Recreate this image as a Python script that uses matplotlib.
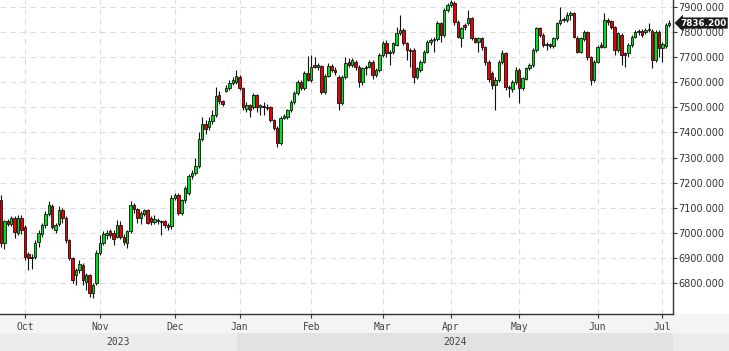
import numpy as np
import pandas as pd
import matplotlib
matplotlib.use("Agg")
import matplotlib.pyplot as plt
import matplotlib.transforms as mtransforms
from matplotlib.patches import Rectangle

# trading days (ASX style calendar)
holidays = ['2023-12-25', '2023-12-26', '2024-01-01', '2024-01-26', '2024-03-29',
            '2024-04-01', '2024-04-25', '2024-06-10']
dates = pd.bdate_range('2023-09-21', '2024-07-03')
dates = dates[~dates.isin(pd.to_datetime(holidays))]

opens = [7130, 6960, 7045, 7035, 7058, 7000, 7058, 7023, 6915, 6900,
         6905, 6962, 6995, 7030, 7075, 7105, 7012, 7035, 7090, 7058,
         6970, 6900, 6830, 6850, 6870, 6805, 6830, 6760, 6800, 6920,
         6960, 6990, 7005, 7000, 6985, 7030, 6985, 6960, 7005, 7110,
         7095, 7060, 7075, 7090, 7058, 7042, 7050, 7048, 7045, 7030,
         7025, 7140, 7150, 7079, 7130, 7160, 7228, 7240, 7268, 7375,
         7435, 7420, 7445, 7470, 7550, 7525, 7565, 7578, 7598, 7600,
         7622, 7578, 7495, 7510, 7502, 7550, 7502, 7507, 7502, 7502,
         7450, 7418, 7358, 7458, 7462, 7490, 7522, 7557, 7600, 7578,
         7637, 7610, 7668, 7660, 7665, 7561, 7625, 7665, 7650, 7621,
         7517, 7621, 7682, 7668, 7682, 7662, 7601, 7655, 7662, 7682,
         7629, 7648, 7708, 7755, 7715, 7720, 7750, 7795, 7808, 7755,
         7729, 7729, 7621, 7648, 7682, 7722, 7762, 7768, 7772, 7836,
         7788, 7888, 7908, 7915, 7842, 7776, 7828, 7835, 7855, 7775,
         7762, 7775, 7740, 7680, 7635, 7590, 7610, 7680, 7717, 7578,
         7572, 7601, 7650, 7577, 7615, 7655, 7668, 7729, 7816, 7788,
         7748, 7752, 7744, 7775, 7836, 7852, 7848, 7870, 7876, 7778,
         7722, 7772, 7800, 7700, 7610, 7682, 7748, 7742, 7848, 7845,
         7820, 7728, 7790, 7715, 7715, 7748, 7781, 7802, 7805, 7800,
         7808, 7805, 7690, 7802, 7735, 7745, 7828]
highs = [7150, 7050, 7055, 7068, 7065, 7072, 7072, 7030, 6925, 6915,
         6970, 7010, 7040, 7085, 7125, 7115, 7040, 7105, 7100, 7065,
         6975, 6905, 6860, 6890, 6880, 6840, 6835, 6800, 6930, 6990,
         7005, 7010, 7015, 7010, 7050, 7045, 6995, 7010, 7125, 7120,
         7100, 7085, 7095, 7095, 7065, 7070, 7058, 7052, 7050, 7040,
         7150, 7160, 7160, 7135, 7185, 7235, 7250, 7300, 7400, 7460,
         7450, 7460, 7490, 7580, 7565, 7530, 7590, 7610, 7620, 7650,
         7630, 7582, 7520, 7515, 7558, 7555, 7515, 7520, 7515, 7505,
         7455, 7425, 7465, 7475, 7495, 7530, 7565, 7610, 7610, 7645,
         7705, 7708, 7700, 7675, 7670, 7632, 7675, 7672, 7660, 7630,
         7630, 7700, 7695, 7695, 7690, 7668, 7660, 7668, 7690, 7688,
         7655, 7715, 7765, 7770, 7728, 7762, 7820, 7868, 7815, 7762,
         7735, 7735, 7662, 7690, 7730, 7770, 7775, 7780, 7845, 7842,
         7895, 7915, 7928, 7925, 7850, 7822, 7835, 7888, 7860, 7780,
         7782, 7780, 7745, 7690, 7645, 7620, 7690, 7730, 7722, 7590,
         7608, 7660, 7656, 7622, 7662, 7675, 7735, 7822, 7822, 7795,
         7760, 7758, 7782, 7842, 7900, 7860, 7882, 7885, 7882, 7785,
         7782, 7808, 7806, 7705, 7690, 7750, 7760, 7876, 7856, 7850,
         7826, 7800, 7798, 7722, 7755, 7790, 7810, 7812, 7812, 7815,
         7835, 7812, 7810, 7808, 7760, 7835, 7850]
lows = [6945, 6935, 7028, 7025, 6980, 6990, 6995, 6890, 6852, 6855,
        6895, 6945, 6985, 7020, 7065, 7015, 7000, 7025, 7040, 6960,
        6890, 6800, 6790, 6840, 6790, 6770, 6745, 6740, 6790, 6910,
        6950, 6975, 6980, 6950, 6980, 6975, 6950, 6940, 7000, 7080,
        7040, 7035, 7065, 7035, 7030, 7035, 7035, 6990, 7020, 7010,
        7015, 7130, 7070, 7070, 7120, 7150, 7215, 7230, 7260, 7365,
        7395, 7410, 7435, 7460, 7515, 7505, 7560, 7570, 7590, 7592,
        7570, 7490, 7480, 7460, 7495, 7480, 7470, 7470, 7490, 7440,
        7410, 7340, 7350, 7452, 7455, 7480, 7515, 7550, 7570, 7570,
        7605, 7600, 7655, 7650, 7555, 7555, 7620, 7640, 7630, 7490,
        7510, 7615, 7660, 7660, 7650, 7580, 7590, 7630, 7655, 7615,
        7620, 7640, 7700, 7700, 7668, 7712, 7745, 7788, 7750, 7690,
        7661, 7597, 7612, 7640, 7675, 7715, 7750, 7720, 7765, 7760,
        7780, 7880, 7900, 7830, 7775, 7741, 7810, 7828, 7770, 7755,
        7720, 7730, 7670, 7600, 7575, 7490, 7600, 7672, 7570, 7541,
        7560, 7595, 7517, 7570, 7608, 7648, 7660, 7722, 7780, 7740,
        7730, 7735, 7738, 7768, 7830, 7840, 7840, 7850, 7775, 7715,
        7715, 7765, 7690, 7590, 7600, 7675, 7735, 7735, 7830, 7812,
        7710, 7720, 7670, 7660, 7700, 7740, 7775, 7790, 7780, 7792,
        7800, 7655, 7682, 7700, 7682, 7738, 7820]
closes = [6960, 7045, 7035, 7060, 7003, 7060, 7011, 6903, 6900, 6905,
          6960, 7000, 7030, 7075, 7110, 7023, 7030, 7090, 7058, 6970,
          6900, 6812, 6852, 6875, 6812, 6830, 6760, 6790, 6920, 6960,
          6995, 7000, 6990, 6975, 7030, 6985, 6965, 7005, 7110, 7095,
          7060, 7078, 7090, 7040, 7042, 7055, 7045, 7043, 7030, 7022,
          7140, 7150, 7079, 7130, 7178, 7228, 7240, 7268, 7375, 7435,
          7415, 7445, 7470, 7545, 7525, 7515, 7578, 7597, 7610, 7625,
          7578, 7502, 7510, 7490, 7550, 7502, 7508, 7500, 7498, 7450,
          7418, 7358, 7458, 7465, 7490, 7522, 7557, 7600, 7578, 7637,
          7610, 7660, 7660, 7668, 7561, 7625, 7665, 7650, 7640, 7517,
          7621, 7677, 7668, 7689, 7662, 7601, 7655, 7662, 7682, 7629,
          7648, 7708, 7755, 7715, 7722, 7755, 7795, 7808, 7755, 7729,
          7725, 7621, 7655, 7682, 7722, 7762, 7768, 7772, 7836, 7788,
          7888, 7908, 7920, 7842, 7780, 7816, 7822, 7855, 7775, 7762,
          7775, 7740, 7680, 7615, 7590, 7610, 7680, 7717, 7581, 7582,
          7601, 7650, 7577, 7615, 7655, 7668, 7729, 7816, 7788, 7748,
          7752, 7744, 7775, 7836, 7850, 7848, 7870, 7878, 7780, 7722,
          7775, 7800, 7700, 7610, 7682, 7741, 7742, 7848, 7840, 7820,
          7728, 7795, 7708, 7708, 7748, 7781, 7802, 7805, 7790, 7808,
          7810, 7690, 7802, 7735, 7752, 7828, 7836.2]

month_labels = ['Oct', 'Nov', 'Dec', 'Jan', 'Feb', 'Mar', 'Apr', 'May', 'Jun', 'Jul']
year_labels = ['2023', '2024']
last_price = closes[-1]

o = np.array(opens, dtype=float)
h = np.array(highs, dtype=float)
l = np.array(lows, dtype=float)
c = np.array(closes, dtype=float)
x = np.arange(len(c))

W, H = 729, 351
fig = plt.figure(figsize=(W / 100, H / 100), dpi=100, facecolor='white')
ax = fig.add_axes([0, 37 / H, 673 / W, 314 / H])
ax.set_facecolor('white')

# bottom strip (months + years)
fig.add_artist(Rectangle((0, 0), 1, 37 / H, transform=fig.transFigure,
                         facecolor='#f4f4f4', edgecolor='none', zorder=0))

# wicks and bodies
ax.vlines(x, l, h, color='#111111', linewidth=0.8, zorder=2)
up = c >= o
body_bottom = np.minimum(o, c)
body_h = np.maximum(np.abs(c - o), 3)
ax.bar(x, body_h, bottom=body_bottom, width=0.72,
       color=np.where(up, '#00e01a', '#ee0000'),
       edgecolor='#111111', linewidth=0.6, zorder=3)

ax.set_xlim(-0.3, 197.1)
ax.set_ylim(6676, 7928)

# month ticks at the first trading day of each month
month_idx = [i for i in range(1, len(dates)) if dates[i].month != dates[i - 1].month]
ax.set_xticks(month_idx)
ax.set_xticklabels(month_labels, fontfamily='DejaVu Sans Mono', fontsize=7, color='#444444')
ax.tick_params(axis='x', direction='out', length=3, pad=3, color='#333333')

yt = np.arange(6800, 7901, 100)
ax.set_yticks(yt)
ax.set_yticklabels([f'{v:.3f}' for v in yt], fontsize=7, color='#333333')
ax.yaxis.tick_right()
ax.tick_params(axis='y', direction='out', length=3, pad=1, color='#333333')

ax.grid(True, color='#dcdcdc', linestyle=(0, (5, 4)), linewidth=0.8, zorder=0)
ax.set_axisbelow(True)
for s in ['left', 'top']:
    ax.spines[s].set_visible(False)
for s in ['right', 'bottom']:
    ax.spines[s].set_color('#333333')
    ax.spines[s].set_linewidth(1)

# year band
xl = ax.get_xlim()
px = (xl[1] - xl[0]) / 673
bax = fig.add_axes([0, 0, 1, 18 / H])
bax.set_xlim(xl[0], xl[0] + W * px)
bax.set_ylim(0, 1)
bax.axis('off')
jan = month_idx[3] - 0.9
bax.axvspan(xl[0], jan, color='#ececec', lw=0)
bax.axvspan(jan, xl[1], color='#e2e2e2', lw=0)
bax.axvspan(xl[1], xl[0] + W * px, color='#ececec', lw=0)
bax.text((xl[0] + jan) / 2, 0.5, year_labels[0], ha='center', va='center',
         fontfamily='DejaVu Sans Mono', fontsize=7, color='#444444')
bax.text((jan + xl[1]) / 2, 0.5, year_labels[1], ha='center', va='center',
         fontfamily='DejaVu Sans Mono', fontsize=7, color='#444444')

# last price tag
trans = mtransforms.blended_transform_factory(ax.transAxes, ax.transData)
ax.text(1.011, last_price, f'{last_price:.3f}', transform=trans, ha='left', va='center',
        fontsize=6.4, fontweight='bold', color='white', clip_on=False, zorder=5,
        bbox=dict(boxstyle='larrow,pad=0.12', facecolor='#1a1a1a', edgecolor='none'))

fig.savefig('out.png', dpi=100)
